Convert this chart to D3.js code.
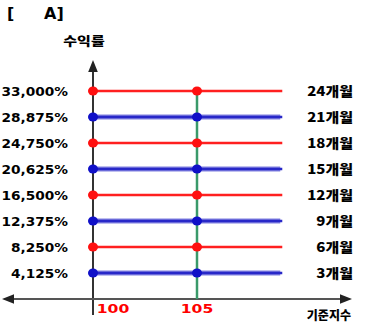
<!DOCTYPE html>
<html><head><meta charset="utf-8">
<script src="https://cdn.jsdelivr.net/npm/d3@7"></script>
<style>
html,body{margin:0;padding:0;background:#fff;}
svg{display:block;}
text{font-family:"DejaVu Sans","Noto Sans CJK KR",sans-serif;font-weight:bold;}
.ko{font-family:"Noto Sans CJK KR","DejaVu Sans",sans-serif;font-weight:900;}
</style></head>
<body>
<svg id="c" width="372" height="327"></svg>
<script>
const months = [24, 21, 18, 15, 12, 9, 6, 3];
const monthLabels = ["24개월","21개월","18개월","15개월","12개월","9개월","6개월","3개월"];
const returnLabels = ["33,000%","28,875%","24,750%","20,625%","16,500%","12,375%","8,250%","4,125%"];
const seriesColors = ["red","blue","red","blue","red","blue","red","blue"];
const indexTicks = [100, 105];
const lineEnd = 109.1;

const svg = d3.select("#c");
const x = d3.scaleLinear().domain([100, 105]).range([93, 197]);
const y = d3.scaleLinear().domain([3, 24]).range([273, 91]);
const axisY = 299;

function stretch(sel, k) {
  sel.each(function() {
    const w = this.getComputedTextLength();
    d3.select(this).attr("textLength", w * k).attr("lengthAdjust", "spacingAndGlyphs");
  });
  return sel;
}

// title
svg.append("text").attr("x", 7).attr("y", 19).attr("font-size", 16).text("[");
svg.append("text").attr("x", 44).attr("y", 19).attr("font-size", 16).text("A]");
stretch(svg.append("text").attr("class","ko").attr("x", 84).attr("y", 46).attr("font-size", 12)
  .attr("text-anchor","middle").text("수익률"), 1.25);

// axes
svg.append("defs").append("marker").attr("id","ar").attr("viewBox","0 0 10 10")
  .attr("refX",5).attr("refY",5).attr("markerWidth",6).attr("markerHeight",6).attr("orient","auto-start-reverse")
  .append("path").attr("d","M0,1 L10,5 L0,9 Z").attr("fill","#222");

svg.append("line").attr("x1", x(100)).attr("x2", x(100)).attr("y1", 315).attr("y2", 66)
  .attr("stroke","#333").attr("stroke-width",2).attr("marker-end","url(#ar)");
svg.append("line").attr("x1", 8).attr("x2", 346).attr("y1", axisY).attr("y2", axisY)
  .attr("stroke","#555").attr("stroke-width",2)
  .attr("marker-start","url(#ar)").attr("marker-end","url(#ar)");

// green vertical
svg.append("line").attr("x1", x(105)).attr("x2", x(105)).attr("y1", y(24)).attr("y2", axisY)
  .attr("stroke","#3a9a6a").attr("stroke-width",2.5);

// lines
const g = svg.append("g");
months.forEach((m, i) => {
  const c = seriesColors[i];
  if (c === "blue") {
    g.append("line").attr("x1", x(100)).attr("x2", x(lineEnd)-2).attr("y1", y(m)).attr("y2", y(m))
      .attr("stroke","#8080e0").attr("stroke-width",5);
    g.append("line").attr("x1", x(100)).attr("x2", x(lineEnd)).attr("y1", y(m)).attr("y2", y(m))
      .attr("stroke","#2828c8").attr("stroke-width",2.5);
  } else {
    g.append("line").attr("x1", x(100)).attr("x2", x(lineEnd)).attr("y1", y(m)).attr("y2", y(m))
      .attr("stroke","#ff2020").attr("stroke-width",2.5);
  }
  indexTicks.forEach(t => {
    g.append("ellipse").attr("cx", x(t)).attr("cy", y(m)).attr("rx", 5).attr("ry", 4.5)
      .attr("fill", c === "blue" ? "#1010c8" : "#ff1010");
  });
  stretch(svg.append("text").attr("x", 68).attr("y", y(m) + 4.5).attr("font-size", 12)
    .attr("text-anchor","end").text(returnLabels[i]), 1.14);
  stretch(svg.append("text").attr("class","ko").attr("x", 353).attr("y", y(m) + 5).attr("font-size", 13)
    .attr("text-anchor","end").text(monthLabels[i]), 1.15);
});

// x tick labels
const tickCenters = {100: x(100) + 20, 105: x(105)};
indexTicks.forEach(t => {
  stretch(svg.append("text").attr("x", tickCenters[t]).attr("y", 313).attr("font-size", 13)
    .attr("text-anchor","middle").attr("fill","#ff0000").text(String(t)), 1.2);
});
stretch(svg.append("text").attr("class","ko").attr("x", 351).attr("y", 320).attr("font-size", 12)
  .attr("text-anchor","end").text("기준지수"), 1.0);
</script>
</body></html>
